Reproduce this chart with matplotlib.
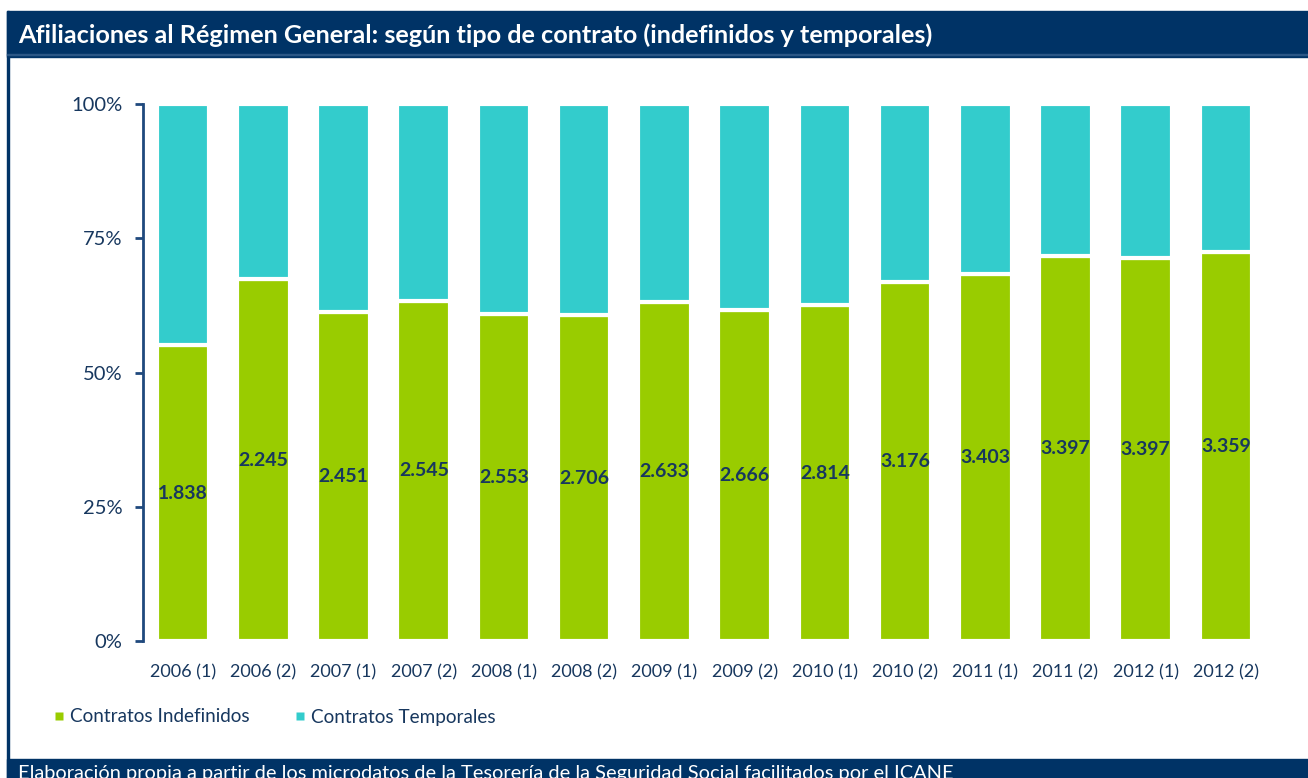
import matplotlib
matplotlib.use('Agg')
import matplotlib.pyplot as plt
from matplotlib.patches import Rectangle
from matplotlib.lines import Line2D

plt.rcParams['font.family'] = ['Lato', 'DejaVu Sans']

periodos = ['2006 (1)', '2006 (2)', '2007 (1)', '2007 (2)', '2008 (1)', '2008 (2)', '2009 (1)',
            '2009 (2)', '2010 (1)', '2010 (2)', '2011 (1)', '2011 (2)', '2012 (1)', '2012 (2)']
# cuota de indefinidos sobre el total
pct_indefinidos = [55.1, 67.4, 61.3, 63.4, 60.9, 60.7, 63.1, 61.6, 62.5, 66.8, 68.3, 71.7, 71.3, 72.5]
pct_temporales = [100 - p for p in pct_indefinidos]
# etiquetas: afiliados indefinidos (miles)
etiquetas = ['1.838', '2.245', '2.451', '2.545', '2.553', '2.706', '2.633',
             '2.666', '2.814', '3.176', '3.403', '3.397', '3.397', '3.359']

verde = '#99CC00'
cian = '#33CCCC'
azul = '#003366'
texto = '#17375E'

W, H = 1308, 778
fig = plt.figure(figsize=(W / 100, H / 100), dpi=100)

# cabecera, pie y borde
fig.patches.append(Rectangle((7 / W, 1 - 57 / H), 1 - 7 / W, 46 / H, transform=fig.transFigure,
                             color=azul, zorder=0))
fig.patches.append(Rectangle((7 / W, 1 - 55 / H), 1 - 7 / W, 1.2 / H, transform=fig.transFigure,
                             color='#2B5786', zorder=1))
fig.patches.append(Rectangle((7 / W, 0), 1 - 7 / W, 19 / H, transform=fig.transFigure,
                             color=azul, zorder=0))
fig.patches.append(Rectangle((6.5 / W, 0), 2 / W, 1 - 11 / H, transform=fig.transFigure,
                             color=azul, zorder=0))

fig.text(18 / W, 1 - 35 / H, 'Afiliaciones al Régimen General: según tipo de contrato (indefinidos y temporales)',
         color='white', fontsize=18.2, fontweight='bold', va='center', ha='left')
# el pie queda recortado por el borde inferior, igual que en el original
fig.text(18 / W, 1 - 765 / H,
         'Elaboración propia a partir de los microdatos de la Tesorería de la Seguridad Social facilitados por el ICANE',
         color='white', fontsize=14.4, va='top', ha='left')

ax = fig.add_axes([143 / W, (H - 641) / H, (1266 - 143) / W, (641 - 104) / H])
x = range(len(periodos))
ax.bar(x, pct_indefinidos, width=0.655, color=verde, edgecolor='white', linewidth=3.0)
ax.bar(x, pct_temporales, bottom=pct_indefinidos, width=0.655, color=cian, edgecolor='white', linewidth=3.0)

for i, (p, t) in enumerate(zip(pct_indefinidos, etiquetas)):
    ax.text(i, p / 2, t, ha='center', va='center', fontsize=14, fontweight='bold', color=texto)

ax.set_xlim(-0.5, len(periodos) - 0.5)
ax.set_ylim(0, 100)
ax.set_yticks([0, 25, 50, 75, 100])
ax.set_yticklabels(['0%', '25%', '50%', '75%', '100%'])
ax.set_xticks(list(x))
ax.set_xticklabels(periodos)
for s in ['top', 'right', 'bottom']:
    ax.spines[s].set_visible(False)
ax.spines['left'].set_color('#1F497D')
ax.spines['left'].set_linewidth(2)
ax.tick_params(axis='y', colors='#1F497D', length=6, width=2, pad=9, labelsize=14.5, labelcolor=texto)
ax.tick_params(axis='x', length=0, pad=17, labelsize=13, labelcolor=texto)

handles = [Line2D([], [], marker='s', color='none', markerfacecolor=verde, markeredgecolor='none', markersize=6),
           Line2D([], [], marker='s', color='none', markerfacecolor=cian, markeredgecolor='none', markersize=6)]
fig.legend(handles, ['Contratos Indefinidos', 'Contratos Temporales'], loc='center left',
           bbox_to_anchor=(36 / W, 1 - 717 / H), ncol=2, frameon=False, fontsize=13.6,
           handlelength=0.6, handletextpad=0.3, columnspacing=2.35, labelcolor=texto)

fig.savefig('out.png', dpi=100)
